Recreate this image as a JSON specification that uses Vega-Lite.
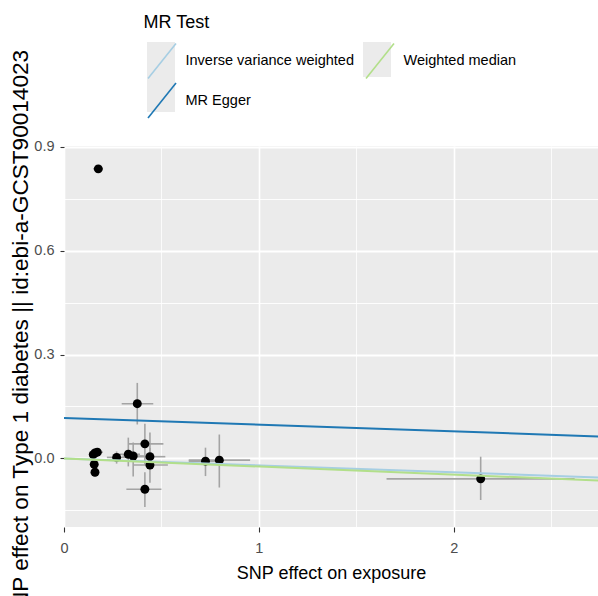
{
  "$schema": "https://vega.github.io/schema/vega-lite/v6.json",
  "width": 534,
  "height": 381,
  "autosize": {"type": "none"},
  "padding": {"left": 64, "top": 146, "right": 0, "bottom": 69},
  "background": "white",
  "config": {
    "view": {"fill": "#EBEBEB", "stroke": null},
    "font": "Liberation Sans",
    "axis": {"domain": false, "gridColor": "white", "labelFlush": false, "labelOverlap": false, "labelColor": "#4D4D4D", "labelFontSize": 14.5, "tickColor": "#333333", "tickWidth": 1.1, "titleColor": "black", "titleFontWeight": "normal"}
  },
  "datasets": {
    "lines": [
      {"method": "Inverse variance weighted", "x": 0, "y": 0},
      {"method": "Inverse variance weighted", "x": 2.74, "y": -0.055},
      {"method": "MR Egger", "x": 0, "y": 0.117},
      {"method": "MR Egger", "x": 2.74, "y": 0.0635},
      {"method": "Weighted median", "x": 0, "y": 0},
      {"method": "Weighted median", "x": 2.74, "y": -0.064}
    ],
    "snps": [
      {"x": 0.176, "y": 0.836, "xlo": 0.15, "xhi": 0.2, "ylo": 0.828, "yhi": 0.844},
      {"x": 0.376, "y": 0.158, "xlo": 0.296, "xhi": 0.458, "ylo": 0.098, "yhi": 0.218},
      {"x": 0.415, "y": 0.042, "xlo": 0.33, "xhi": 0.51, "ylo": -0.02, "yhi": 0.1},
      {"x": 0.159, "y": 0.016, "xlo": 0.13, "xhi": 0.19, "ylo": 0.004, "yhi": 0.028},
      {"x": 0.171, "y": 0.018, "xlo": 0.15, "xhi": 0.2, "ylo": 0.006, "yhi": 0.03},
      {"x": 0.15, "y": 0.011, "xlo": 0.13, "xhi": 0.17, "ylo": 0.0, "yhi": 0.02},
      {"x": 0.155, "y": -0.017, "xlo": 0.14, "xhi": 0.17, "ylo": -0.03, "yhi": -0.004},
      {"x": 0.159, "y": -0.04, "xlo": 0.14, "xhi": 0.18, "ylo": -0.052, "yhi": -0.028},
      {"x": 0.27, "y": 0.003, "xlo": 0.22, "xhi": 0.32, "ylo": -0.015, "yhi": 0.02},
      {"x": 0.33, "y": 0.012, "xlo": 0.27, "xhi": 0.39, "ylo": -0.023, "yhi": 0.06},
      {"x": 0.355, "y": 0.007, "xlo": 0.3, "xhi": 0.41, "ylo": -0.052, "yhi": 0.046},
      {"x": 0.441, "y": 0.005, "xlo": 0.36, "xhi": 0.52, "ylo": -0.03, "yhi": 0.075},
      {"x": 0.441, "y": -0.019, "xlo": 0.355, "xhi": 0.533, "ylo": -0.07, "yhi": 0.03},
      {"x": 0.415, "y": -0.089, "xlo": 0.32, "xhi": 0.5, "ylo": -0.14, "yhi": -0.04},
      {"x": 0.726, "y": -0.008, "xlo": 0.64, "xhi": 0.81, "ylo": -0.051, "yhi": 0.031},
      {"x": 0.797, "y": -0.005, "xlo": 0.64, "xhi": 0.955, "ylo": -0.084, "yhi": 0.069},
      {"x": 2.138, "y": -0.059, "xlo": 1.655, "xhi": 2.62, "ylo": -0.12, "yhi": 0.005}
    ]
  },
  "layer": [
    {
      "data": {"name": "lines"},
      "mark": {"type": "square", "opacity": 0},
      "encoding": {
        "x": {
          "field": "x", "type": "quantitative", "title": "SNP effect on exposure",
          "scale": {"domain": [0, 2.74], "nice": false, "zero": false},
          "axis": {
            "title": "SNP effect on exposure",
            "values": [0, 0.5, 1, 1.5, 2, 2.5],
            "labelExpr": "abs(datum.value-round(datum.value))<0.01 ? format(datum.value,'d') : ''",
            "tickOpacity": {"condition": {"test": "abs(datum.value-round(datum.value))<0.01", "value": 1}, "value": 0},
            "gridWidth": {"condition": {"test": "abs(datum.value-round(datum.value))<0.01", "value": 1.6}, "value": 0.8},
            "tickSize": 5,
            "labelPadding": 20,
            "labelBaseline": "alphabetic",
            "titleFontSize": 18,
            "titleX": 267,
            "titleY": 51,
            "titleBaseline": "alphabetic",
            "titleAlign": "center"
          }
        },
        "y": {
          "field": "y", "type": "quantitative", "title": "SNP effect on Type 1 diabetes || id:ebi-a-GCST90014023",
          "scale": {"domain": [-0.198, 0.902], "nice": false, "zero": false},
          "axis": {
            "title": "SNP effect on Type 1 diabetes || id:ebi-a-GCST90014023",
            "values": [-0.15, 0, 0.15, 0.3, 0.45, 0.6, 0.75, 0.9],
            "labelExpr": "abs(datum.value/0.3-round(datum.value/0.3))<0.01 ? format(datum.value,'.1f') : ''",
            "tickOpacity": {"condition": {"test": "abs(datum.value/0.3-round(datum.value/0.3))<0.01", "value": 1}, "value": 0},
            "gridWidth": {"condition": {"test": "abs(datum.value/0.3-round(datum.value/0.3))<0.01", "value": 1.8}, "value": 0.9},
            "tickSize": 4,
            "labelPadding": 6,
            "titleFontSize": 22.6,
            "titleAngle": 270,
            "titleX": -37,
            "titleY": 190,
            "titleBaseline": "alphabetic",
            "titleAlign": "center"
          }
        },
        "fill": {
          "field": "method", "type": "nominal",
          "scale": {"range": ["#EBEBEB", "#EBEBEB", "#EBEBEB"]},
          "legend": {
            "title": "MR Test", "orient": "none", "legendX": 79.5, "legendY": -132, "columns": 2,
            "symbolType": "M-0.8,-1H0.8V1H-0.8Z", "symbolSize": 1225, "symbolStrokeWidth": 0, "symbolOpacity": 1,
            "labelFontSize": 14.5, "labelColor": "transparent", "labelOffset": 5, "labelLimit": 400, "rowPadding": -12, "columnPadding": 7,
            "titleFontSize": 18, "titleFontWeight": "normal", "titleColor": "transparent", "titlePadding": 10, "padding": 0, "zindex": 1
          }
        }
      }
    },
    {
      "data": {"name": "snps"},
      "mark": {"type": "rule", "color": "#A4A4A4", "strokeWidth": 1.6},
      "encoding": {
        "x": {"field": "x", "type": "quantitative", "title": "SNP effect on exposure", "scale": {"domain": [0, 2.74], "nice": false, "zero": false}},
        "y": {"field": "ylo", "type": "quantitative", "title": "SNP effect on Type 1 diabetes || id:ebi-a-GCST90014023", "scale": {"domain": [-0.198, 0.902], "nice": false, "zero": false}},
        "y2": {"field": "yhi"}
      }
    },
    {
      "data": {"name": "snps"},
      "mark": {"type": "rule", "color": "#A4A4A4", "strokeWidth": 1.6},
      "encoding": {
        "x": {"field": "xlo", "type": "quantitative", "title": "SNP effect on exposure", "scale": {"domain": [0, 2.74], "nice": false, "zero": false}},
        "x2": {"field": "xhi"},
        "y": {"field": "y", "type": "quantitative", "title": "SNP effect on Type 1 diabetes || id:ebi-a-GCST90014023", "scale": {"domain": [-0.198, 0.902], "nice": false, "zero": false}}
      }
    },
    {
      "data": {"name": "snps"},
      "mark": {"type": "circle", "color": "black", "size": 80, "opacity": 1},
      "encoding": {
        "x": {"field": "x", "type": "quantitative", "title": "SNP effect on exposure", "scale": {"domain": [0, 2.74], "nice": false, "zero": false}},
        "y": {"field": "y", "type": "quantitative", "title": "SNP effect on Type 1 diabetes || id:ebi-a-GCST90014023", "scale": {"domain": [-0.198, 0.902], "nice": false, "zero": false}}
      }
    },
    {
      "data": {"name": "lines"},
      "mark": {"type": "line", "strokeWidth": 2, "clip": true},
      "encoding": {
        "x": {"field": "x", "type": "quantitative", "title": "SNP effect on exposure", "scale": {"domain": [0, 2.74], "nice": false, "zero": false}},
        "y": {"field": "y", "type": "quantitative", "title": "SNP effect on Type 1 diabetes || id:ebi-a-GCST90014023", "scale": {"domain": [-0.198, 0.902], "nice": false, "zero": false}},
        "color": {
          "field": "method", "type": "nominal",
          "scale": {"domain": ["Inverse variance weighted", "MR Egger", "Weighted median"], "range": ["#A6CEE3", "#1F78B4", "#B2DF8A"]},
          "legend": {
            "title": "MR Test", "orient": "none", "legendX": 79.5, "legendY": -132, "columns": 2,
            "symbolType": "M-0.8,1L0.8,-1", "symbolSize": 1225, "symbolStrokeWidth": 1.6, "symbolFillColor": "transparent", "symbolOpacity": 1,
            "labelFontSize": 14.5, "labelColor": "black", "labelOffset": 5, "labelLimit": 400, "rowPadding": -12, "columnPadding": 7,
            "titleFontSize": 18, "titleFontWeight": "normal", "titleColor": "black", "titlePadding": 10, "padding": 0, "zindex": 2
          }
        }
      }
    }
  ]
}
